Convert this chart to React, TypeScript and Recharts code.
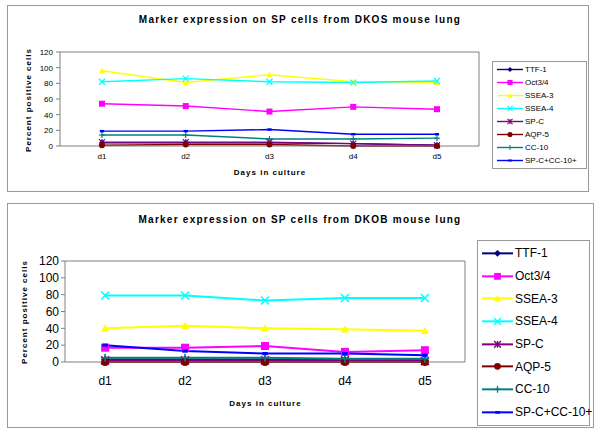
import React from "react";
import { LineChart, Line, XAxis, YAxis, Legend } from "recharts";

const days = ["d1", "d2", "d3", "d4", "d5"];
const yTicks = [0, 20, 40, 60, 80, 100, 120];
const boundaryTicks = [0, 1, 2, 3, 4, 5];

const seriesNames = ["TTF-1", "Oct3/4", "SSEA-3", "SSEA-4", "SP-C", "AQP-5", "CC-10", "SP-C+CC-10+"];
const seriesColors = ["#000080", "#FF00FF", "#FFFF00", "#00FFFF", "#800080", "#800000", "#008080", "#0000FF"];
const seriesMarkers = ["diamond", "square", "triangle", "cross", "star", "circle", "plus", "dash"];

// DKOS mouse lung
const ttf1Dkos = [4, 4, 4, 3, 1];
const oct34Dkos = [54, 51, 44, 50, 47];
const ssea3Dkos = [96, 81, 91, 82, 81];
const ssea4Dkos = [82, 86, 82, 81, 83];
const spcDkos = [5, 5, 5, 3, 1];
const aqp5Dkos = [1, 2, 2, 0, 0];
const cc10Dkos = [14, 14, 9, 9, 10];
const spcCc10Dkos = [19, 19, 21, 15, 15];

// DKOB mouse lung
const ttf1Dkob = [3, 3, 3, 2, 2];
const oct34Dkob = [17, 17, 19, 12, 14];
const ssea3Dkob = [40, 43, 40, 39, 37];
const ssea4Dkob = [79, 79, 73, 76, 76];
const spcDkob = [2, 2, 2, 2, 1];
const aqp5Dkob = [0, 0, 0, 0, 0];
const cc10Dkob = [5, 5, 5, 4, 4];
const spcCc10Dkob = [20, 13, 10, 10, 8];

const FONT = "Arial, 'Liberation Sans', sans-serif";
const GRAY = "#808080";

function buildRows(cols: number[][]) {
  return days.map((day, i) => {
    const row: any = { day };
    cols.forEach((c, k) => {
      row["s" + k] = c[i];
    });
    return row;
  });
}

const dkosRows = buildRows([ttf1Dkos, oct34Dkos, ssea3Dkos, ssea4Dkos, spcDkos, aqp5Dkos, cc10Dkos, spcCc10Dkos]);
const dkobRows = buildRows([ttf1Dkob, oct34Dkob, ssea3Dkob, ssea4Dkob, spcDkob, aqp5Dkob, cc10Dkob, spcCc10Dkob]);

function Marker({ kind, cx, cy, color, size }: { kind: string; cx: number; cy: number; color: string; size: number }) {
  const s = size / 2;
  const sw = Math.max(1, size / 5);
  switch (kind) {
    case "diamond":
      return <polygon points={`${cx},${cy - s} ${cx + s},${cy} ${cx},${cy + s} ${cx - s},${cy}`} fill={color} />;
    case "square":
      return <rect x={cx - s} y={cy - s} width={size} height={size} fill={color} />;
    case "triangle":
      return <polygon points={`${cx},${cy - s} ${cx + s},${cy + s * 0.8} ${cx - s},${cy + s * 0.8}`} fill={color} />;
    case "cross":
      return (
        <g stroke={color} strokeWidth={sw}>
          <line x1={cx - s} y1={cy - s} x2={cx + s} y2={cy + s} />
          <line x1={cx - s} y1={cy + s} x2={cx + s} y2={cy - s} />
        </g>
      );
    case "star":
      return (
        <g stroke={color} strokeWidth={sw}>
          <line x1={cx - s} y1={cy - s} x2={cx + s} y2={cy + s} />
          <line x1={cx - s} y1={cy + s} x2={cx + s} y2={cy - s} />
          <line x1={cx} y1={cy - s} x2={cx} y2={cy + s} />
        </g>
      );
    case "circle":
      return <circle cx={cx} cy={cy} r={s} fill={color} />;
    case "plus":
      return (
        <g stroke={color} strokeWidth={sw}>
          <line x1={cx} y1={cy - s} x2={cx} y2={cy + s} />
          <line x1={cx - s} y1={cy} x2={cx + s} y2={cy} />
        </g>
      );
    default:
      return <rect x={cx - s * 0.7} y={cy - sw} width={s * 1.4} height={sw * 2} fill={color} />;
  }
}

type PanelProps = {
  rows: any[];
  title: string;
  top: number;
  boxHeight: number;
  boxWidth: number;
  chartHeight: number;
  margin: { top: number; right: number; bottom: number; left: number };
  yAxisWidth: number;
  tickFont: number;
  tickMargin: number;
  yTickMargin: number;
  markerSize: number;
  lineWidth: number;
  legend: { left: number; top: number; width: number; rowH: number; font: number; lineW: number };
  titleY: number;
  xLabelY: number;
  yLabel: { x: number; y: number };
};

function Panel(p: PanelProps) {
  const padLR = (600 - p.margin.left - p.yAxisWidth - p.margin.right) / 10;
  return (
    <div style={{ position: "absolute", left: 0, top: p.top, width: 600, height: p.chartHeight }}>
      <div
        style={{
          position: "absolute",
          left: 7,
          top: 5,
          width: p.boxWidth,
          height: p.boxHeight,
          border: "1px solid #9a9a9a",
          boxSizing: "border-box",
        }}
      />
      <div
        style={{
          position: "absolute",
          left: 0,
          width: 600,
          top: p.titleY - 7,
          textAlign: "center",
          fontWeight: "bold",
          fontSize: 10,
          letterSpacing: 1.25,
          lineHeight: "14px",
        }}
      >
        {p.title}
      </div>
      <LineChart width={600} height={p.chartHeight} data={p.rows} margin={p.margin} style={{ position: "absolute", left: 0, top: 0 }}>
        <XAxis
          xAxisId="bounds"
          type="number"
          domain={[0, 5]}
          allowDataOverflow
          ticks={boundaryTicks}
          tick={false}
          axisLine={false}
          tickSize={4}
          height={1}
          stroke={GRAY}
        />
        <XAxis
          dataKey="day"
          padding={{ left: padLR, right: padLR }}
          tickLine={false}
          stroke={GRAY}
          tickSize={5}
          tickMargin={p.tickMargin}
          tick={{ fill: "#000", fontSize: p.tickFont, fontFamily: FONT }}
          interval={0}
        />
        <XAxis xAxisId="topEdge" orientation="top" dataKey="day" tick={false} tickLine={false} height={1} stroke={GRAY} />
        <YAxis
          domain={[0, 120]}
          ticks={yTicks}
          width={p.yAxisWidth}
          stroke={GRAY}
          tickSize={4}
          tickMargin={p.yTickMargin}
          tick={{ fill: "#000", fontSize: p.tickFont, fontFamily: FONT }}
          interval={0}
        />
        <YAxis yAxisId="rightEdge" orientation="right" domain={[0, 120]} tick={false} tickLine={false} width={1} stroke={GRAY} />
        <Legend
          layout="vertical"
          align="center"
          verticalAlign="middle"
          wrapperStyle={{ left: p.legend.left, top: p.legend.top, width: p.legend.width }}
          content={(lp: any) => {
            const items = [...(lp.payload || [])].sort(
              (a: any, b: any) => seriesNames.indexOf(a.value) - seriesNames.indexOf(b.value)
            );
            return (
              <div
                style={{
                  border: "1px solid #9a9a9a",
                  background: "#fff",
                  boxSizing: "border-box",
                  width: p.legend.width,
                  padding: "1px 0",
                }}
              >
                {items.map((entry: any) => {
                  const k = seriesNames.indexOf(entry.value);
                  return (
                    <div key={entry.value} style={{ display: "flex", alignItems: "center", height: p.legend.rowH }}>
                      <svg width={p.legend.lineW + 6} height={p.legend.rowH} style={{ flex: "none" }}>
                        <line
                          x1={4}
                          x2={4 + p.legend.lineW}
                          y1={p.legend.rowH / 2}
                          y2={p.legend.rowH / 2}
                          stroke={entry.color || seriesColors[k]}
                          strokeWidth={p.lineWidth}
                        />
                        <Marker
                          kind={seriesMarkers[k]}
                          cx={4 + p.legend.lineW / 2}
                          cy={p.legend.rowH / 2}
                          color={entry.color || seriesColors[k]}
                          size={p.markerSize * 0.85}
                        />
                      </svg>
                      <span style={{ fontSize: p.legend.font, color: "#000", whiteSpace: "nowrap" }}>{entry.value}</span>
                    </div>
                  );
                })}
              </div>
            );
          }}
        />
        {seriesNames.map((name, k) => (
          <Line
            key={name}
            dataKey={"s" + k}
            name={name}
            stroke={seriesColors[k]}
            strokeWidth={p.lineWidth}
            isAnimationActive={false}
            dot={(dp: any) => (
              <g key={name + dp.index}>
                <Marker kind={seriesMarkers[k]} cx={dp.cx} cy={dp.cy} color={seriesColors[k]} size={p.markerSize} />
              </g>
            )}
            activeDot={false}
          />
        ))}
      </LineChart>
      <div
        style={{
          position: "absolute",
          left: p.margin.left + p.yAxisWidth,
          width: 600 - p.margin.left - p.yAxisWidth - p.margin.right,
          top: p.xLabelY - 6,
          textAlign: "center",
          fontWeight: "bold",
          fontSize: 8,
          letterSpacing: 1,
          lineHeight: "12px",
        }}
      >
        Days in culture
      </div>
      <div
        style={{
          position: "absolute",
          left: p.yLabel.x - 60,
          top: p.yLabel.y - 6,
          width: 120,
          textAlign: "center",
          fontWeight: "bold",
          fontSize: 8,
          letterSpacing: 1,
          lineHeight: "12px",
          transform: "rotate(-90deg)",
          whiteSpace: "nowrap",
        }}
      >
        Percent positive cells
      </div>
    </div>
  );
}

export default function App() {
  return (
    <div
      style={{
        position: "absolute",
        left: 0,
        top: 0,
        width: 600,
        height: 433,
        background: "#fff",
        fontFamily: FONT,
        overflow: "hidden",
      }}
    >
      <Panel
        rows={dkosRows}
        title="Marker expression on SP cells from DKOS mouse lung"
        top={0}
        boxWidth={582}
        boxHeight={187}
        chartHeight={200}
        margin={{ top: 51, right: 120, bottom: 23, left: 30 }}
        yAxisWidth={30}
        tickFont={8}
        tickMargin={2}
        yTickMargin={3}
        markerSize={6}
        lineWidth={1.4}
        legend={{ left: 492, top: 61, width: 95, rowH: 13, font: 8, lineW: 26 }}
        titleY={20}
        xLabelY={173}
        yLabel={{ x: 29, y: 100 }}
      />
      <Panel
        rows={dkobRows}
        title="Marker expression on SP cells from DKOB mouse lung"
        top={198}
        boxWidth={587}
        boxHeight={225}
        chartHeight={235}
        margin={{ top: 62, right: 134, bottom: 40, left: 30 }}
        yAxisWidth={35}
        tickFont={12}
        tickMargin={9}
        yTickMargin={2}
        markerSize={8}
        lineWidth={2}
        legend={{ left: 477, top: 42, width: 113, rowH: 22.7, font: 12, lineW: 31 }}
        titleY={22}
        xLabelY={206}
        yLabel={{ x: 25, y: 114 }}
      />
    </div>
  );
}
